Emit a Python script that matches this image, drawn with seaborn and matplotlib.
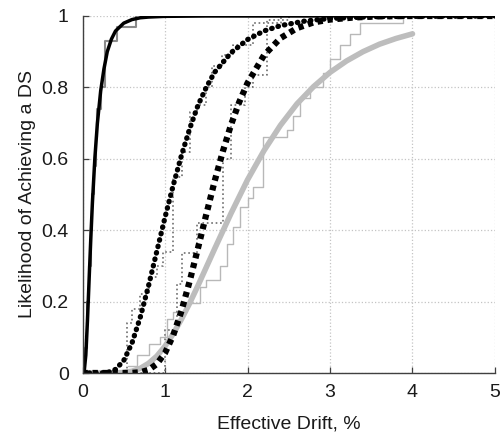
import matplotlib
matplotlib.use("Agg")
import matplotlib.pyplot as plt
import seaborn as sns
import pandas as pd

# ---- fitted fragility curves ----
ds1_x = [0.0, 0.02, 0.04, 0.06, 0.08, 0.10, 0.12, 0.15, 0.18, 0.22, 0.26, 0.30,
         0.35, 0.40, 0.50, 0.60, 0.70, 0.80, 1.0, 1.5, 2.0, 3.0, 4.0, 5.0]
ds1_y = [0.0, 0.004, 0.05, 0.147, 0.262, 0.375, 0.477, 0.603, 0.699, 0.790, 0.852, 0.90,
         0.935, 0.958, 0.980, 0.990, 0.995, 0.997, 0.999, 1.0, 1.0, 1.0, 1.0, 1.0]

ds2_x = [0.0, 0.2, 0.3, 0.4, 0.5, 0.6, 0.7, 0.8, 0.9, 1.0, 1.1, 1.2, 1.3, 1.4, 1.5,
         1.6, 1.8, 2.0, 2.2, 2.4, 2.7, 3.0, 3.5, 4.0, 5.0]
ds2_y = [0.0, 0.0, 0.001, 0.010, 0.035, 0.084, 0.156, 0.244, 0.340, 0.436, 0.526, 0.610,
         0.685, 0.750, 0.800, 0.842, 0.897, 0.934, 0.958, 0.973, 0.986, 0.993, 0.998,
         0.999, 1.0]

ds3_x = [0.0, 0.5, 0.6, 0.7, 0.8, 0.9, 1.0, 1.1, 1.2, 1.3, 1.4, 1.5, 1.6, 1.7, 1.8,
         1.9, 2.0, 2.2, 2.4, 2.6, 2.8, 3.0, 3.3, 3.6, 4.0, 5.0]
ds3_y = [0.0, 0.0, 0.0003, 0.002, 0.0085, 0.025, 0.056, 0.106, 0.174, 0.258, 0.350,
         0.444, 0.536, 0.620, 0.695, 0.759, 0.812, 0.890, 0.938, 0.966, 0.982, 0.990,
         0.996, 0.999, 1.0, 1.0]

ds4_x = [0.0, 0.4, 0.5, 0.6, 0.7, 0.8, 0.9, 1.0, 1.1, 1.2, 1.3, 1.4, 1.5, 1.6, 1.8,
         2.0, 2.2, 2.4, 2.6, 2.8, 3.0, 3.2, 3.4, 3.6, 3.8, 4.0]
ds4_y = [0.0, 0.0003, 0.0015, 0.005, 0.013, 0.027, 0.047, 0.075, 0.110, 0.151, 0.196,
         0.245, 0.296, 0.347, 0.447, 0.541, 0.623, 0.694, 0.754, 0.802, 0.842, 0.874,
         0.900, 0.921, 0.937, 0.950]

# ---- empirical (step) distributions ----
emp1_x = [0.0, 0.03, 0.06, 0.08, 0.10, 0.12, 0.14, 0.16, 0.18, 0.22, 0.27, 0.42, 0.65]
emp1_y = [0.0, 0.07, 0.20, 0.30, 0.40, 0.50, 0.58, 0.66, 0.74, 0.80, 0.93, 0.97, 1.0]

emp2_x = [0.0, 0.54, 0.60, 0.70, 0.80, 0.90, 0.98, 1.10, 1.20, 1.30, 1.39, 1.50, 1.57,
          1.69, 1.82, 2.07, 2.40, 2.60]
emp2_y = [0.0, 0.14, 0.18, 0.22, 0.27, 0.30, 0.34, 0.55, 0.62, 0.73, 0.75, 0.80, 0.86,
          0.89, 0.92, 0.98, 1.0, 1.0]

emp3_x = [0.0, 1.00, 1.14, 1.20, 1.39, 1.70, 1.80, 1.97, 2.07, 2.24, 2.50, 2.70]
emp3_y = [0.0, 0.12, 0.25, 0.335, 0.42, 0.60, 0.75, 0.80, 0.835, 0.99, 1.0, 1.0]

emp4_x = [0.55, 0.66, 0.80, 0.94, 1.02, 1.10, 1.26, 1.42, 1.50, 1.67, 1.75, 1.83, 1.91,
          2.00, 2.07, 2.19, 2.48, 2.55, 2.64, 2.76, 2.92, 3.00, 3.12, 3.24, 3.36, 3.88]
emp4_y = [0.02, 0.05, 0.08, 0.10, 0.15, 0.17, 0.196, 0.24, 0.26, 0.30, 0.36, 0.41, 0.465,
          0.49, 0.52, 0.66, 0.68, 0.72, 0.77, 0.80, 0.84, 0.88, 0.92, 0.95, 0.98, 1.0]

x_ticks = [0, 1, 2, 3, 4, 5]
y_ticks = [0, 0.2, 0.4, 0.6, 0.8, 1.0]
y_tick_labels = ["0", "0.2", "0.4", "0.6", "0.8", "1"]

sns.set_style("white")
plt.rcParams['font.family'] = ['Liberation Sans', 'DejaVu Sans']

fig = plt.figure(figsize=(5.01, 4.38), dpi=100)
ax = fig.add_axes([0.1647, 0.1484, 0.8233, 0.8151])

def df(x, y):
    return pd.DataFrame({"x": x, "y": y})

# empirical steps
sns.lineplot(data=df(emp4_x, emp4_y), x="x", y="y", ax=ax, estimator=None, sort=False,
             drawstyle="steps-post", color="#b8b8b8", lw=1.0)
sns.lineplot(data=df(emp2_x, emp2_y), x="x", y="y", ax=ax, estimator=None, sort=False,
             drawstyle="steps-post", color="#6e6e6e", lw=1.2, linestyle=":")
sns.lineplot(data=df(emp3_x, emp3_y), x="x", y="y", ax=ax, estimator=None, sort=False,
             drawstyle="steps-post", color="#6e6e6e", lw=1.2, linestyle=":")
sns.lineplot(data=df(emp1_x, emp1_y), x="x", y="y", ax=ax, estimator=None, sort=False,
             drawstyle="steps-post", color="#8a8a8a", lw=1.5)

# fitted curves
sns.lineplot(data=df(ds4_x, ds4_y), x="x", y="y", ax=ax, estimator=None, sort=False,
             color="#bdbdbd", lw=4.0)
sns.lineplot(data=df(ds2_x, ds2_y), x="x", y="y", ax=ax, estimator=None, sort=False,
             color="black", lw=3.8)
ax.lines[-1].set_dashes((0.1, 1.15))
ax.lines[-1].set_dash_capstyle("round")
sns.lineplot(data=df(ds3_x, ds3_y), x="x", y="y", ax=ax, estimator=None, sort=False,
             color="black", lw=4.5)
ax.lines[-1].set_dashes((0.85, 0.75))
sns.lineplot(data=df(ds1_x, ds1_y), x="x", y="y", ax=ax, estimator=None, sort=False,
             color="black", lw=2.5)

ax.set_xlim(0, 5)
ax.set_ylim(0, 1)
ax.set_xticks(x_ticks)
ax.set_xticklabels([str(t) for t in x_ticks])
ax.set_yticks(y_ticks)
ax.set_yticklabels(y_tick_labels)
ax.grid(True, linestyle=":", color="#c4c4c4", lw=0.9)
ax.set_axisbelow(True)

for s in ["top", "right"]:
    ax.spines[s].set_visible(False)
for s in ["left", "bottom"]:
    ax.spines[s].set_color("#404040")
    ax.spines[s].set_linewidth(1.0)

ax.tick_params(direction="in", length=4, width=0.9, colors="#404040",
               labelcolor="#1a1a1a", labelsize=14, bottom=True, left=True)
ax.tick_params(axis="x", pad=8)
ax.tick_params(axis="y", pad=10)
ax.set_xlabel("Effective Drift, %", fontsize=14, color="#1a1a1a", labelpad=10)
ax.set_ylabel("Likelihood of Achieving a DS", fontsize=14, color="#1a1a1a", labelpad=4)

fig.savefig("out.png", dpi=100)
